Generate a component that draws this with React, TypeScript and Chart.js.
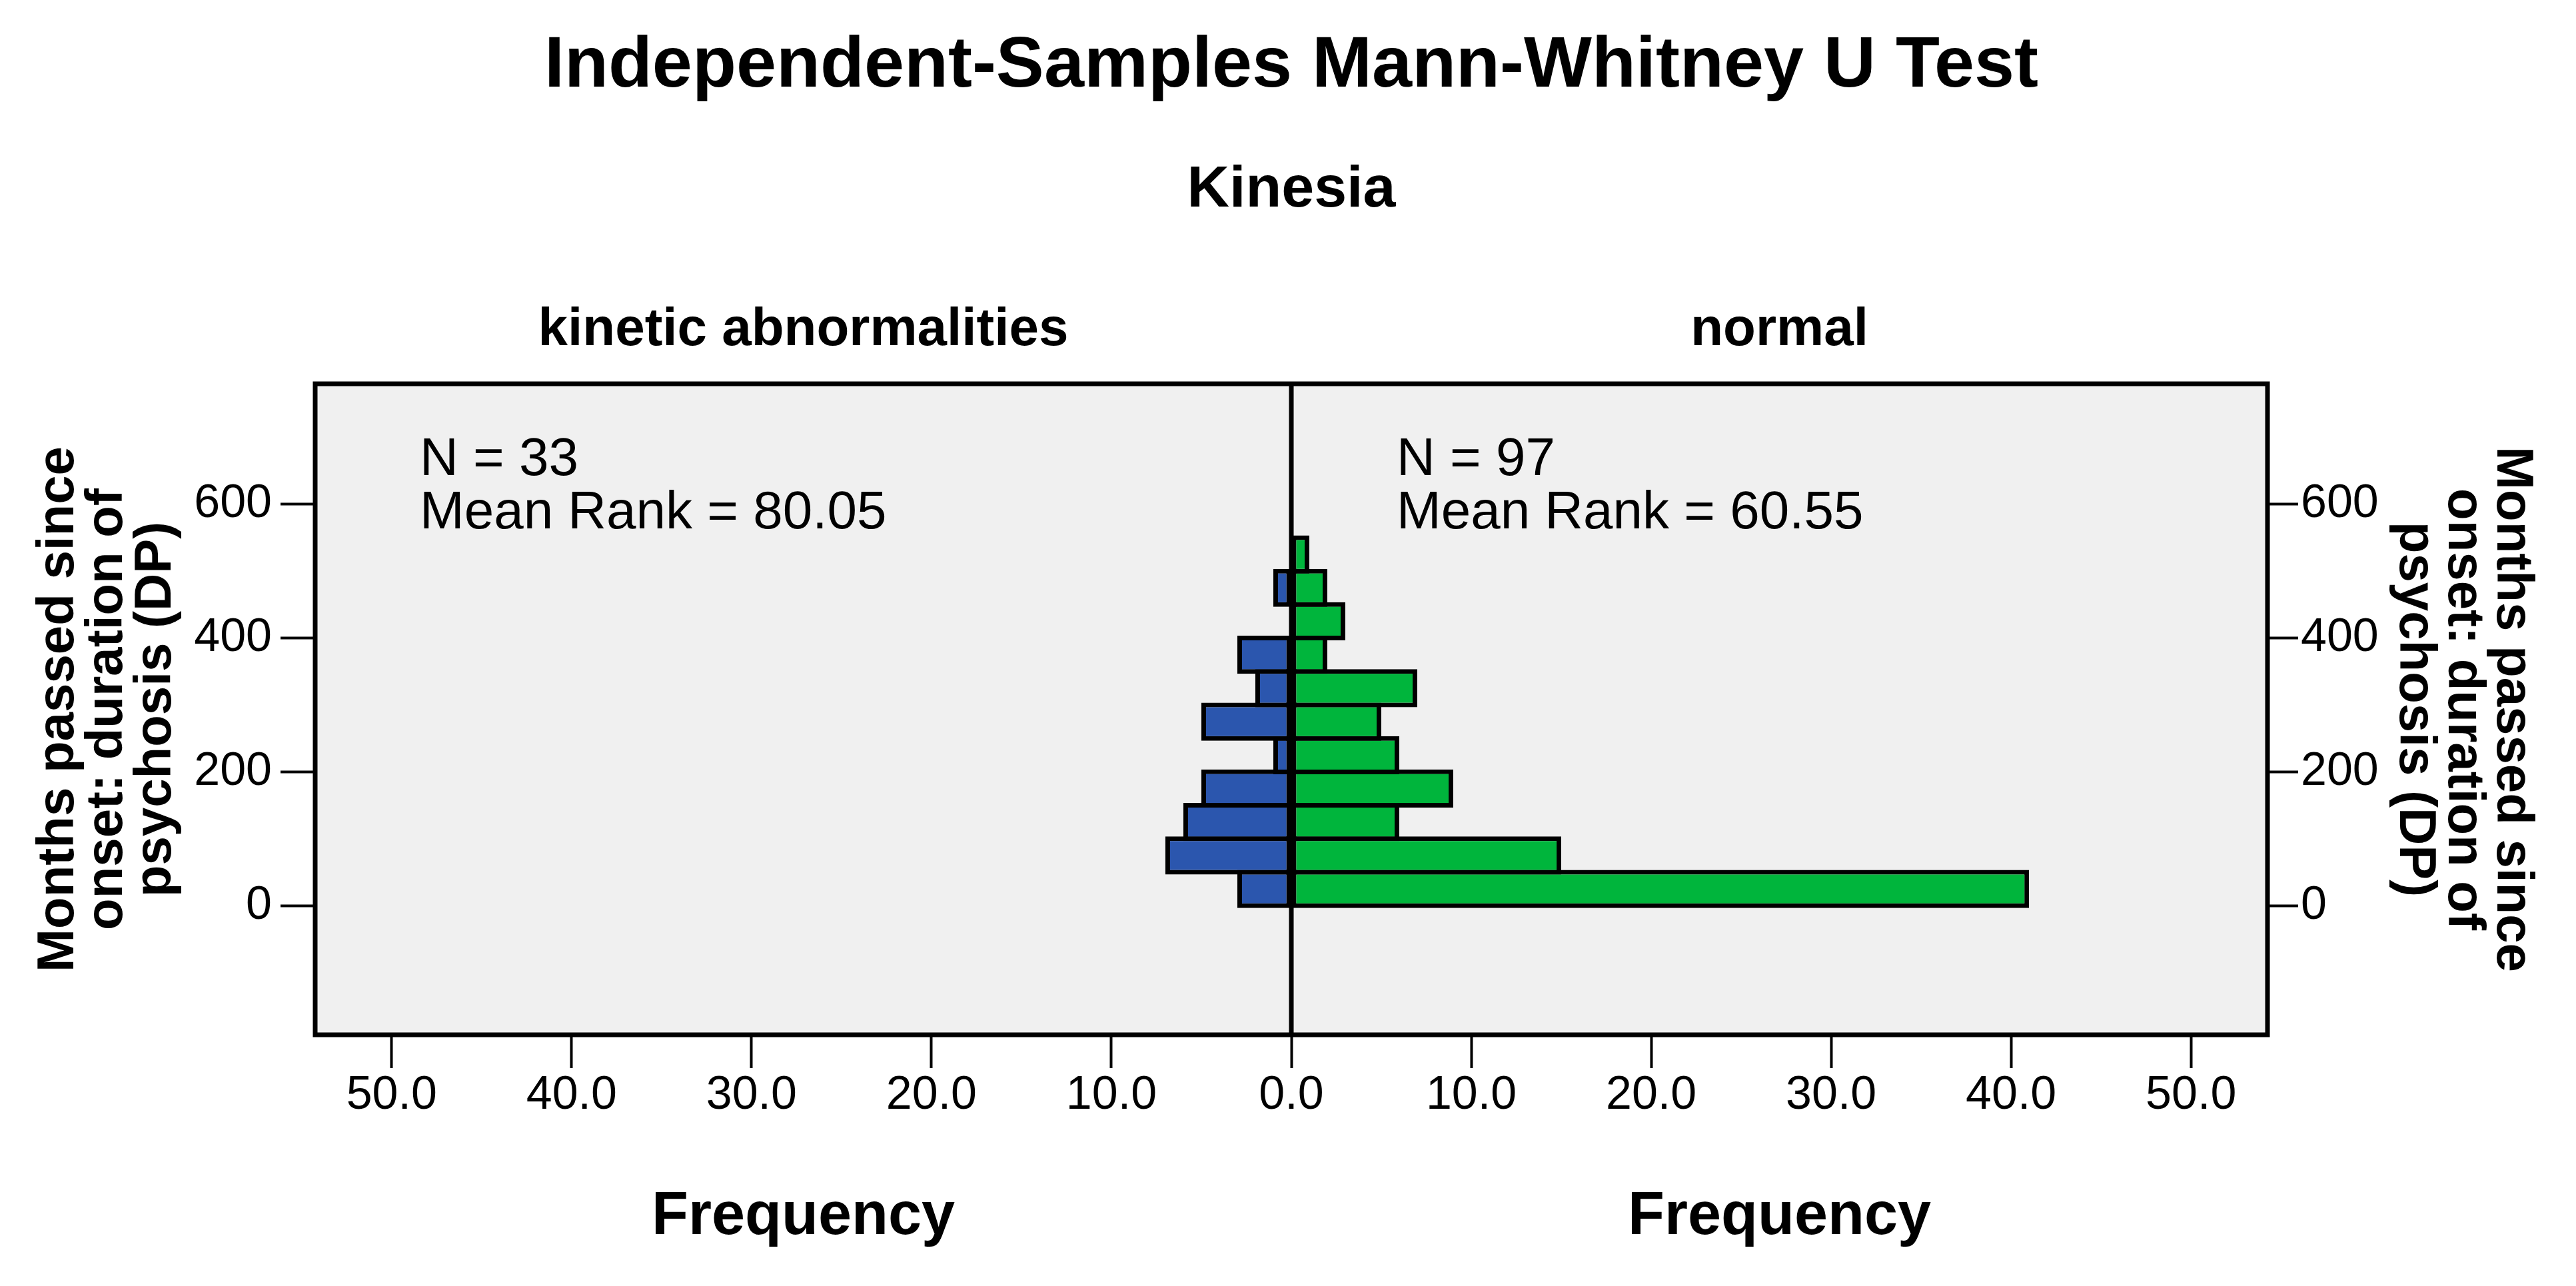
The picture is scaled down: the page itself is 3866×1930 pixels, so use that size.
import React, { useEffect, useRef } from 'react';
import { Chart, registerables } from 'chart.js';

Chart.register(...registerables);

// ---- data (bins of 50 months, bottom to top) ----
const BIN_MIDPOINTS = [25, 75, 125, 175, 225, 275, 325, 375, 425, 475, 525];
const KINETIC_COUNTS = [3, 7, 6, 5, 1, 5, 2, 3, 0, 1, 0];
const NORMAL_COUNTS = [41, 15, 6, 9, 6, 5, 7, 2, 3, 2, 1];
const Y_TICKS = [0, 200, 400, 600];
const X_TICKS = [-50, -40, -30, -20, -10, 0, 10, 20, 30, 40, 50];

const TITLE = 'Independent-Samples Mann-Whitney U Test';
const SUBTITLE = 'Kinesia';
const GROUPS = ['kinetic abnormalities', 'normal'];
const GROUP_N = [33, 97];
const MEAN_RANKS = ['80.05', '60.55'];
const Y_TITLE = ['Months passed since', 'onset: duration of', 'psychosis (DP)'];
const X_TITLE = 'Frequency';

const FONT = '"Liberation Sans", Arial, Helvetica, sans-serif';
const BLUE = '#2B56AE';
const GREEN = '#00B53C';
const PLOT_BG = '#F0F0F0';

const W = 3866;
const H = 1930;

const decor = {
  id: 'decor',
  beforeDraw(chart: any) {
    const { ctx, chartArea: a, width, height } = chart;
    ctx.save();
    ctx.fillStyle = '#ffffff';
    ctx.fillRect(0, 0, width, height);
    ctx.fillStyle = PLOT_BG;
    ctx.fillRect(a.left, a.top, a.right - a.left, a.bottom - a.top);
    ctx.restore();
  },
  afterDatasetsDraw(chart: any) {
    const { ctx, chartArea: a, scales } = chart;
    const x0 = scales.x.getPixelForValue(0);
    const cx = (a.left + a.right) / 2;
    ctx.save();
    // centre line and frame
    ctx.strokeStyle = '#000';
    ctx.lineWidth = 7;
    ctx.beginPath();
    ctx.moveTo(x0, a.top);
    ctx.lineTo(x0, a.bottom);
    ctx.stroke();
    ctx.lineWidth = 7;
    ctx.strokeRect(a.left, a.top, a.right - a.left, a.bottom - a.top);

    ctx.fillStyle = '#000';
    ctx.textAlign = 'center';
    ctx.textBaseline = 'alphabetic';
    ctx.font = `bold 108px ${FONT}`;
    ctx.fillText(TITLE, cx, 130);
    ctx.font = `bold 88px ${FONT}`;
    ctx.fillText(SUBTITLE, cx, 310);

    const leftCenter = (a.left + x0) / 2;
    const rightCenter = (x0 + a.right) / 2;
    ctx.font = `bold 80px ${FONT}`;
    ctx.fillText(GROUPS[0], leftCenter, 518);
    ctx.fillText(GROUPS[1], rightCenter, 518);

    ctx.font = `bold 90px ${FONT}`;
    ctx.fillText(X_TITLE, leftCenter, 1852);
    ctx.fillText(X_TITLE, rightCenter, 1852);

    // N / mean rank annotations
    ctx.textAlign = 'left';
    ctx.font = `80px ${FONT}`;
    const nx = [a.left + 157, x0 + 158];
    for (let i = 0; i < 2; i++) {
      ctx.fillText(`N = ${GROUP_N[i]}`, nx[i], a.top + 137);
      ctx.fillText(`Mean Rank = ${MEAN_RANKS[i]}`, nx[i], a.top + 217);
    }

    // rotated axis titles
    const cy = (a.top + a.bottom) / 2;
    ctx.font = `bold 78px ${FONT}`;
    ctx.textAlign = 'center';
    ctx.textBaseline = 'middle';
    const lh = 73;
    ctx.save();
    ctx.translate(161, cy);
    ctx.rotate(-Math.PI / 2);
    Y_TITLE.forEach((t, i) => ctx.fillText(t, 0, (i - 1) * lh));
    ctx.restore();
    ctx.save();
    ctx.translate(3697, cy);
    ctx.rotate(Math.PI / 2);
    Y_TITLE.forEach((t, i) => ctx.fillText(t, 0, (i - 1) * lh));
    ctx.restore();

    ctx.restore();
  },
};

const tickFont = { size: 70, family: FONT, lineHeight: 1 };

export default function App() {
  const ref = useRef<HTMLCanvasElement | null>(null);

  useEffect(() => {
    if (!ref.current) return;
    const chart = new Chart(ref.current, {
      type: 'bar',
      data: {
        datasets: [
          {
            label: GROUPS[0],
            data: BIN_MIDPOINTS.map((m, i) => ({ x: -KINETIC_COUNTS[i], y: m })),
            backgroundColor: BLUE,
            borderColor: '#000',
            borderWidth: 7,
            borderSkipped: false,
            barPercentage: 1.14,
            categoryPercentage: 1,
          },
          {
            label: GROUPS[1],
            data: BIN_MIDPOINTS.map((m, i) => ({ x: NORMAL_COUNTS[i], y: m })),
            backgroundColor: GREEN,
            borderColor: '#000',
            borderWidth: 7,
            borderSkipped: false,
            barPercentage: 1.14,
            categoryPercentage: 1,
          },
        ],
      } as any,
      options: {
        indexAxis: 'y',
        animation: false,
        responsive: false,
        devicePixelRatio: 1,
        layout: { padding: { top: 576, left: 0, right: 0, bottom: 0 } },
        plugins: {
          legend: { display: false },
          tooltip: { enabled: false },
          title: { display: false },
        },
        scales: {
          x: {
            type: 'linear',
            position: 'bottom',
            stacked: true,
            min: -54.25,
            max: 54.25,
            afterBuildTicks: (s: any) => {
              s.ticks = X_TICKS.map((v) => ({ value: v }));
            },
            afterFit: (s: any) => {
              s.height = 377;
            },
            ticks: {
              callback: (v: any) => Math.abs(Number(v)).toFixed(1),
              font: tickFont,
              color: '#000',
              padding: 7,
              autoSkip: false,
              maxRotation: 0,
              minRotation: 0,
            },
            grid: {
              display: true,
              drawOnChartArea: false,
              drawTicks: true,
              tickLength: 50,
              tickWidth: 4,
              tickColor: '#000',
              offset: false,
            },
            border: { display: false },
          },
          y: {
            type: 'linear',
            position: 'left',
            stacked: true,
            offset: false,
            min: -193,
            max: 780,
            afterBuildTicks: (s: any) => {
              s.ticks = Y_TICKS.map((v) => ({ value: v }));
            },
            afterFit: (s: any) => {
              s.width = 473;
            },
            ticks: {
              callback: (v: any) => String(v),
              font: tickFont,
              color: '#000',
              padding: 13,
            },
            grid: {
              display: true,
              drawOnChartArea: false,
              drawTicks: true,
              tickLength: 52,
              tickWidth: 4,
              tickColor: '#000',
              offset: false,
            },
            border: { display: false },
          },
          y2: {
            type: 'linear',
            position: 'right',
            offset: false,
            min: -193,
            max: 780,
            afterBuildTicks: (s: any) => {
              s.ticks = Y_TICKS.map((v) => ({ value: v }));
            },
            afterFit: (s: any) => {
              s.width = 463;
            },
            ticks: {
              callback: (v: any) => String(v),
              font: tickFont,
              color: '#000',
              padding: 4,
            },
            grid: {
              display: true,
              drawOnChartArea: false,
              drawTicks: true,
              tickLength: 46,
              tickWidth: 4,
              tickColor: '#000',
              offset: false,
            },
            border: { display: false },
          },
        },
      } as any,
      plugins: [decor],
    });
    return () => chart.destroy();
  }, []);

  return (
    <div style={{ position: 'fixed', left: 0, top: 0, width: W, height: H, background: '#fff' }}>
      <canvas ref={ref} width={W} height={H} style={{ width: W, height: H, display: 'block' }} />
    </div>
  );
}
